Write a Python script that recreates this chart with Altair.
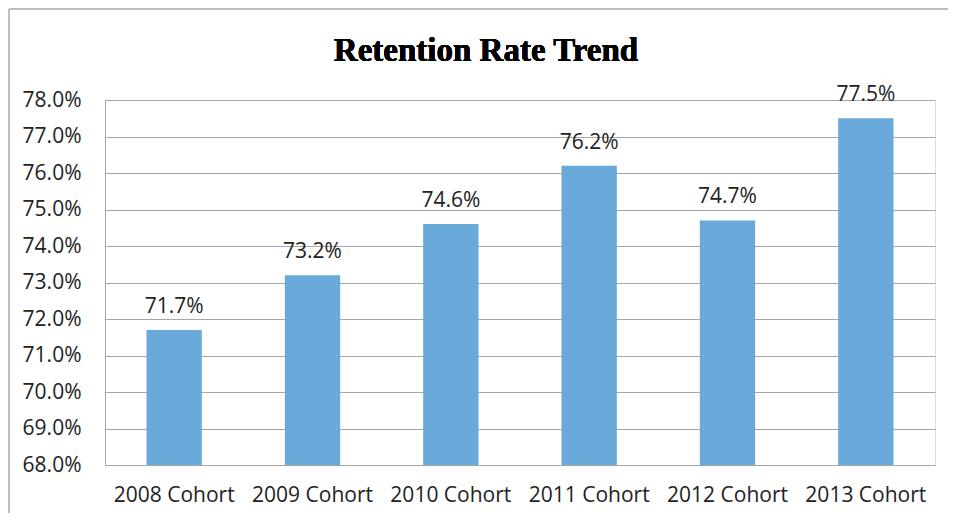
import altair as alt
import pandas as pd

cohorts = ["2008 Cohort", "2009 Cohort", "2010 Cohort", "2011 Cohort", "2012 Cohort", "2013 Cohort"]
rates = [0.717, 0.732, 0.746, 0.762, 0.747, 0.775]
y_ticks = [0.68, 0.69, 0.70, 0.71, 0.72, 0.73, 0.74, 0.75, 0.76, 0.77, 0.78]
title_text = "Retention Rate Trend"

df = pd.DataFrame({"cohort": cohorts, "rate": rates})

FONT = "Open Sans"
FS = 21

x = alt.X("cohort:N", sort=cohorts, title=None,
          scale=alt.Scale(paddingInner=0.6, paddingOuter=0.3),
          axis=alt.Axis(labelAngle=0, labelFontSize=FS, labelColor="#222222",
                        labelFont=FONT, labelPadding=19, ticks=False,
                        domainColor="#a6a6a6", domainWidth=1))
y = alt.Y("rate:Q", title=None,
          scale=alt.Scale(domain=[0.68, 0.78], zero=False, nice=False),
          axis=alt.Axis(values=y_ticks, format=".1%", labelFontSize=FS,
                        labelColor="#222222", labelFont=FONT, labelPadding=24,
                        ticks=False, grid=True, gridColor="#a6a6a6",
                        domainColor="#a6a6a6"))

bars = alt.Chart(df).mark_bar(color="#6aaadb").encode(
    x=x, y=y, y2=alt.datum(0.68)
)

labels = alt.Chart(df).mark_text(
    baseline="alphabetic", dy=-17, fontSize=FS, font=FONT, color="#222222"
).encode(x=x, y=y, text=alt.Text("rate:Q", format=".1%"))

title = alt.Chart(df).mark_text(
    text=title_text, font="Liberation Serif", fontSize=33, fontWeight="bold",
    color="#000000", align="center", baseline="alphabetic"
).encode(x=alt.value(381), y=alt.value(-39))

frame_left = alt.Chart(df).mark_rule(color="#bdbdbd", strokeWidth=2).encode(
    x=alt.value(-96), y=alt.value(-91), y2=alt.value(413)
)
frame_top = alt.Chart(df).mark_rule(color="#bdbdbd", strokeWidth=2).encode(
    x=alt.value(-96), x2=alt.value(843), y=alt.value(-91)
)

chart = alt.layer(bars, labels, title, frame_left, frame_top).properties(
    width=830, height=365,
    autosize=alt.AutoSizeParams(type="none"),
    padding={"left": 97, "top": 92, "right": 13, "bottom": 48},
).configure_view(stroke=None).configure(background="white")

chart.save("out.html", embed_options={"renderer": "svg", "actions": False})
